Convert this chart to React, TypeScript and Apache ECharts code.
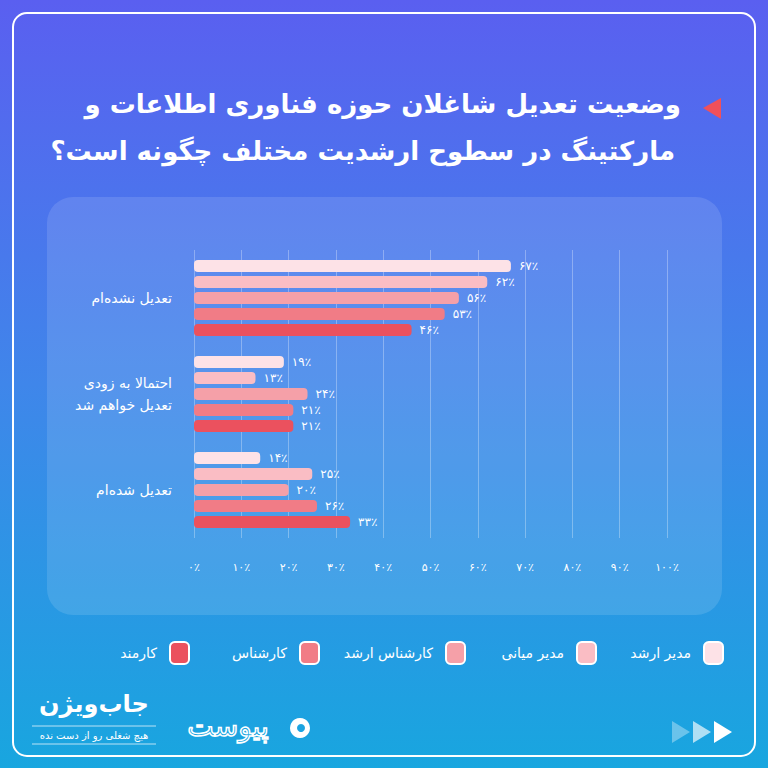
import React, { useEffect, useRef } from "react";
import * as echarts from "echarts";

const categories = ["تعدیل نشده‌ام", "احتمالا به زودی\nتعدیل خواهم شد", "تعدیل شده‌ام"];
const seriesNames = ["مدیر ارشد", "مدیر میانی", "کارشناس ارشد", "کارشناس", "کارمند"];
const seniorManager = [67, 19, 14];
const middleManager = [62, 13, 25];
const seniorExpert = [56, 24, 20];
const expert = [53, 21, 26];
const employee = [46, 21, 33];
const seriesValues = [seniorManager, middleManager, seniorExpert, expert, employee];
const seriesColors = ["#fde2e7", "#fabdc4", "#f5a0a8", "#f17c86", "#eb515e"];
const titleLines = ["وضعیت تعدیل شاغلان حوزه فناوری اطلاعات و", "مارکتینگ در سطوح ارشدیت مختلف چگونه است؟\u200F"];
const legendRights = [44, 171, 302, 448, 578];

const FONT = "DejaVu Sans";
const fa = (n: number | string) =>
  String(n).replace(/[0-9]/g, (d) => "۰۱۲۳۴۵۶۷۸۹"[Number(d)]);

export default function App() {
  const ref = useRef<HTMLDivElement>(null);
  useEffect(() => {
    document.body.style.margin = "0";
    const chart = echarts.init(ref.current!, null, { renderer: "svg" });
    const option: any = {
      animation: false,
      backgroundColor: {
        type: "linear",
        x: 0, y: 0, x2: 0, y2: 1,
        colorStops: [
          { offset: 0, color: "#5a5ff0" },
          { offset: 0.5, color: "#3f86ea" },
          { offset: 1, color: "#18a6df" },
        ],
      },
      textStyle: { fontFamily: FONT },
      graphic: [
        {
          type: "rect", z: -10, silent: true,
          shape: { x: 13, y: 13, width: 742, height: 743, r: 14 },
          style: { fill: "none", stroke: "#ffffff", lineWidth: 2 },
        },
        {
          type: "rect", z: -10, silent: true,
          shape: { x: 47, y: 197, width: 675, height: 418, r: 26 },
          style: { fill: "rgba(255,255,255,0.12)" },
        },
        {
          type: "polygon", silent: true,
          shape: { points: [[703, 108], [721, 98], [721, 119]] },
          style: { fill: "#f0505a" },
        },
        ...titleLines.map((t, i) => ({
          type: "text", silent: true,
          x: i === 0 ? 681 : 675, y: 104 + i * 47,
          style: {
            text: t, fill: "#ffffff", fontSize: 26, fontWeight: "bold",
            fontFamily: FONT, align: "right", verticalAlign: "middle",
          },
        })),
        // footer: jobvision
        {
          type: "text", silent: true, x: 94, y: 704,
          style: { text: "جاب‌ویژن", fill: "#fff", fontSize: 24, fontWeight: "bold", fontFamily: FONT, align: "center", verticalAlign: "middle" },
        },
        { type: "line", silent: true, shape: { x1: 32, y1: 726, x2: 156, y2: 726 }, style: { stroke: "rgba(255,255,255,0.7)", lineWidth: 1 } },
        {
          type: "text", silent: true, x: 94, y: 735,
          style: { text: "هیچ شغلی رو از دست نده", fill: "#fff", fontSize: 10, fontFamily: FONT, align: "center", verticalAlign: "middle" },
        },
        { type: "line", silent: true, shape: { x1: 32, y1: 744, x2: 156, y2: 744 }, style: { stroke: "rgba(255,255,255,0.7)", lineWidth: 1 } },
        // footer: peyvast
        {
          type: "text", silent: true, x: 228, y: 726,
          style: { text: "پیوست", fill: "none", stroke: "#fff", lineWidth: 1.5, fontSize: 28, fontFamily: FONT, align: "center", verticalAlign: "middle" },
        },
        { type: "circle", silent: true, shape: { cx: 300, cy: 728, r: 10 }, style: { fill: "#fff" } },
        { type: "circle", silent: true, shape: { cx: 301, cy: 728, r: 4 }, style: { fill: "#1ba3e1" } },
        // arrows
        { type: "polygon", silent: true, shape: { points: [[672, 721], [690, 732], [672, 743]] }, style: { fill: "rgba(255,255,255,0.35)" } },
        { type: "polygon", silent: true, shape: { points: [[693, 721], [711, 732], [693, 743]] }, style: { fill: "rgba(255,255,255,0.65)" } },
        { type: "polygon", silent: true, shape: { points: [[714, 721], [732, 732], [714, 743]] }, style: { fill: "#ffffff" } },
      ],
      legend: seriesNames.map((name, i) => ({
        data: [name],
        right: legendRights[i],
        top: 641,
        padding: 0,
        align: "right",
        selectedMode: false,
        icon: "roundRect",
        itemWidth: 19,
        itemHeight: 22,
        itemStyle: { borderColor: "#ffffff", borderWidth: 2 },
        textStyle: { color: "#ffffff", fontSize: 14, fontFamily: FONT, padding: [0, 8, 0, 0] },
      })),
      grid: { left: 194, right: 101, top: 250, bottom: 230, containLabel: false },
      xAxis: {
        type: "value",
        min: 0, max: 100, interval: 10,
        axisLine: { show: false },
        axisTick: { show: false },
        splitLine: { lineStyle: { color: "rgba(255,255,255,0.3)", width: 1 } },
        axisLabel: {
          color: "#ffffff", fontSize: 11, fontFamily: FONT, margin: 24,
          formatter: (v: number) => fa(v) + "٪",
        },
      },
      yAxis: {
        type: "category",
        data: categories,
        inverse: true,
        axisLine: { show: false },
        axisTick: { show: false },
        axisLabel: {
          color: "#ffffff", fontSize: 14, fontFamily: FONT, margin: 22,
          align: "right", lineHeight: 22,
        },
      },
      series: seriesNames.map((name, i) => ({
        name,
        type: "bar",
        data: seriesValues[i],
        barWidth: 12,
        barGap: "33%",
        itemStyle: { color: seriesColors[i], borderRadius: 4 },
        label: {
          show: true, position: "right", distance: 8,
          color: "#ffffff", fontSize: 12, fontFamily: FONT,
          formatter: (p: any) => fa(p.value) + "٪",
        },
      })),
    };
    chart.setOption(option);
    return () => chart.dispose();
  }, []);
  return <div ref={ref} style={{ position: "fixed", left: 0, top: 0, width: 768, height: 768 }} />;
}
